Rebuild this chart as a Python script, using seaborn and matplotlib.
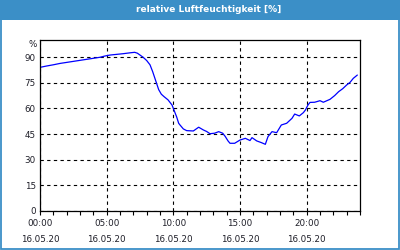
import matplotlib
matplotlib.use("Agg")
import matplotlib.pyplot as plt
import matplotlib.patches as mpatches
import seaborn as sns
import pandas as pd

hours = [0.0, 0.5, 1.0, 1.5, 2.0, 2.5, 3.0, 3.5, 4.0, 4.5, 4.85, 5.25, 5.75, 6.25,
         6.75, 7.1, 7.3, 7.5, 7.75, 8.0, 8.25, 8.45, 8.6, 8.75, 8.9, 9.1, 9.3, 9.6,
         9.9, 10.05, 10.25, 10.4, 10.5, 10.75, 11.0, 11.5, 11.9, 12.25, 12.5, 12.75,
         13.1, 13.4, 13.7, 13.9, 14.1, 14.25, 14.6, 15.0, 15.4, 15.75, 15.9, 16.25,
         16.6, 16.9, 17.1, 17.4, 17.75, 18.1, 18.5, 18.9, 19.1, 19.45, 19.75, 19.9,
         20.1, 20.25, 20.6, 21.0, 21.25, 21.75, 22.1, 22.4, 22.7, 23.0, 23.25, 23.5,
         23.8]
humidity = [84.0, 84.8, 85.5, 86.3, 86.9, 87.5, 88.1, 88.7, 89.3, 89.9, 90.6, 91.2,
            91.6, 92.0, 92.5, 92.8, 92.3, 91.2, 89.8, 88.0, 85.5, 81.5, 78.0, 74.5,
            71.0, 68.3, 66.9, 65.0, 62.0, 59.0, 55.0, 51.3, 50.3, 48.0, 47.0, 46.8,
            49.0, 47.4, 46.5, 45.2, 45.5, 46.4, 45.5, 43.5, 41.0, 39.6, 39.6, 41.5,
            42.5, 41.2, 42.9, 41.0, 40.0, 39.0, 43.5, 46.4, 45.8, 50.3, 51.3, 54.2,
            56.7, 55.6, 57.5, 59.0, 62.0, 63.5, 63.6, 64.5, 63.6, 65.3, 67.5, 69.8,
            71.5, 73.7, 75.2, 77.6, 79.5]
x_ticks = [0, 5, 10, 15, 20]
x_tick_labels = ["00:00\n16.05.20", "05:00\n16.05.20", "10:00\n16.05.20",
                 "15:00\n16.05.20", "20:00\n16.05.20"]
y_ticks = [0, 15, 30, 45, 60, 75, 90]
title = "relative Luftfeuchtigkeit [%]"

df = pd.DataFrame({"h": hours, "v": humidity})

sns.set_theme(style="white")
plt.rcParams["font.family"] = ["DejaVu Sans"]

BLUE = "#3b8fc7"
TXT = "#1e1e28"

fig = plt.figure(figsize=(4, 2.5), dpi=100)
fig.patch.set_facecolor("white")
ax = fig.add_axes([0.1, 0.156, 0.8, 0.684])

sns.lineplot(data=df, x="h", y="v", ax=ax, color="#0000ff", linewidth=0.9)

ax.set_xlim(0, 24)
ax.set_ylim(0, 100)
ax.set_xticks(x_ticks)
ax.set_xticks(range(0, 25), minor=True)
ax.set_xticklabels(x_tick_labels, fontsize=6.3, color=TXT, linespacing=1.9)
ax.set_yticks(y_ticks)
ax.set_yticklabels([str(t) for t in y_ticks], fontsize=6.3, color=TXT)
ax.tick_params(axis="x", which="both", direction="out", length=3, width=0.8,
               color="black", bottom=True, pad=3)
ax.tick_params(axis="y", length=0, pad=3)
ax.set_xlabel("")
ax.set_ylabel("")
ax.grid(True, which="major", color="black", linestyle=(0, (3, 3)), linewidth=0.8)
for s in ax.spines.values():
    s.set_color("black")
    s.set_linewidth(0.9)
    s.set_visible(True)

ax.annotate("%", xy=(0, 97.6), xycoords=("axes fraction", "data"),
            xytext=(-2.2, 0), textcoords="offset points", ha="right", va="center",
            fontsize=6.3, color=TXT)

# title bar and frame
fig.patches.append(mpatches.Rectangle((0, 0.92), 1, 0.08, transform=fig.transFigure,
                                      facecolor=BLUE, edgecolor="none", zorder=0))
fig.patches.append(mpatches.Rectangle((0.0015, 0.004), 0.9955, 0.99, transform=fig.transFigure,
                                      facecolor="none", edgecolor=BLUE, linewidth=1.3, zorder=0))
fig.text(0.522, 0.962, title, ha="center", va="center", color="white",
         fontsize=6.5, fontweight="bold")

fig.savefig("out.png", dpi=100, facecolor="white")
